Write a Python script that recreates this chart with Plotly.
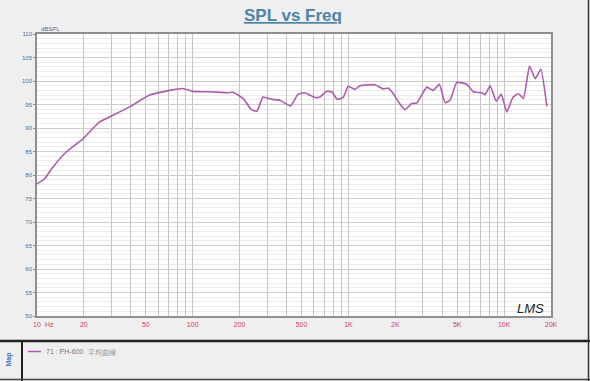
import plotly.graph_objects as go
import numpy as np

# ---- data ----
freq_hz = [10, 11.2, 12.6, 15.4, 19.7, 25.2, 30.7, 39.3, 52.9, 71.1, 86.2, 100, 128.6, 168,
           181.6, 210.6, 238.5, 259, 283, 320.7, 362.6, 424.6, 475.3, 525, 609, 656, 724, 780,
           847, 926, 997, 1101, 1186, 1480, 1674, 1803, 1941, 2143, 2308, 2548, 2746, 3184,
           3509, 3836, 4176, 4497, 4966, 5757, 6350, 7192, 7551, 8131, 8888, 9575, 10410,
           11370, 12360, 13310, 14550, 15830, 17210, 18820]
spl_db = [78.1, 79.2, 81.6, 84.9, 87.7, 91.3, 92.7, 94.5, 97.0, 98.0, 98.4, 97.8, 97.7, 97.5,
          97.6, 96.3, 93.9, 93.6, 96.6, 96.1, 95.9, 94.7, 97.2, 97.5, 96.5, 96.6, 97.8, 97.7,
          96.1, 96.5, 98.9, 98.2, 99.0, 99.2, 98.3, 98.5, 97.3, 95.1, 93.9, 95.2, 95.3, 98.7,
          98.0, 99.3, 95.4, 95.9, 99.7, 99.3, 97.7, 97.5, 97.1, 99.0, 95.7, 97.2, 93.4,
          96.5, 97.3, 96.3, 103.2, 100.5, 102.5, 94.6]

x_tick_vals = [10, 20, 50, 100, 200, 500, 1000, 2000, 5000, 10000, 20000]
x_tick_text = ["10", "20", "50", "100", "200", "500", "1K", "2K", "5K", "10K", "20K"]
y_range = [50, 110]
series_name = "71 : PH-600"
series_note = "平均曲線"

# gridline positions (1..9 per decade)
grid_vals = []
for dec in [10, 100, 1000, 10000]:
    for m in range(1, 10):
        v = dec * m
        if v <= 20000:
            grid_vals.append(v)
grid_vals.append(20000)
grid_vals = sorted(set(grid_vals))
grid_text = [x_tick_text[x_tick_vals.index(v)] if v in x_tick_vals else "" for v in grid_vals]

W, H = 590, 381
L, R, T, B = 37, 39, 34, 65
PW, PH = W - L - R, H - T - B

def px(x):
    return (x - L) / PW

def py(y):
    return (H - B - y) / PH

CURVE = "#ad5bad"
YBLUE = "#3f6fa6"
XRED = "#cf3a6c"

fig = go.Figure()
fig.add_trace(go.Scatter(x=freq_hz, y=spl_db, mode="lines",
                         line=dict(color=CURVE, width=1.6, shape="spline", smoothing=0.4),
                         showlegend=False, hoverinfo="skip"))

fig.update_layout(
    width=W, height=H,
    margin=dict(l=L, r=R, t=T, b=B),
    paper_bgcolor="#efefef", plot_bgcolor="#ffffff",
    font=dict(family="Liberation Sans, Arial", size=7),
    xaxis=dict(type="log", range=[1, np.log10(20000)], tickmode="array",
               tickvals=grid_vals, ticktext=grid_text, showgrid=True,
               gridcolor="#c4c4c4", gridwidth=1, showline=True, mirror=True,
               linecolor="#8f8f8f", linewidth=1.5, ticks="", zeroline=False,
               tickfont=dict(color=XRED, size=7), ticklabelstandoff=1),
    yaxis=dict(range=y_range, dtick=5, tick0=50, showgrid=True, gridcolor="#cdcdcd",
               gridwidth=1, showline=True, mirror=True, linecolor="#8f8f8f",
               linewidth=1.5, ticks="outside", ticklen=2, tickcolor="#8f8f8f",
               zeroline=False, tickfont=dict(color=YBLUE, size=6),
               minor=dict(dtick=1, showgrid=True, gridcolor="#ececec", gridwidth=1)),
)

def ann(text, x, y, xanchor="center", size=7, color="#777777", family=None, **kw):
    f = dict(size=size, color=color)
    if family:
        f["family"] = family
    d = dict(text=text, x=x, y=y, xref=kw.pop("xref", "paper"), yref="paper",
             xanchor=xanchor, yanchor="middle", showarrow=False, font=f)
    d.update(kw)
    return d

annotations = [
    ann("<b><u>SPL vs Freq</u></b>", px(293), py(15), size=17, color="#4d84a8",
        family="Liberation Sans, Arial"),
    ann("dBSPL", px(39), py(29), xanchor="left", size=6, color=YBLUE),
    ann("Hz", 1, py(324), xanchor="left", size=7, color=XRED, xref="x", xshift=6),
    ann("<i>LMS</i>", px(546), py(308), xanchor="right", size=13, color="#222222",
        family="Liberation Sans, Arial"),
    ann(series_name, px(44), py(351.5), xanchor="left", size=7, color="#777777"),
    ann(series_note, px(86), py(351.5), xanchor="left", size=7, color="#999999",
        family="Noto Sans CJK TC"),
    ann("<b>Map</b>", px(8.5), py(360), size=7, color="#3d78c0", textangle=-90),
]
fig.update_layout(annotations=annotations)

shapes = [
    dict(type="line", xref="paper", yref="paper", x0=px(0), x1=px(590), y0=py(341), y1=py(341),
         line=dict(color="#222222", width=2.5)),
    dict(type="line", xref="paper", yref="paper", x0=px(22), x1=px(22), y0=py(341), y1=py(381),
         line=dict(color="#222222", width=2)),
    dict(type="line", xref="paper", yref="paper", x0=px(0), x1=px(590), y0=py(379.5), y1=py(379.5),
         line=dict(color="#444444", width=1.5)),
    dict(type="line", xref="paper", yref="paper", x0=px(588.5), x1=px(588.5), y0=py(0), y1=py(381),
         line=dict(color="#333333", width=1.5)),
    dict(type="line", xref="paper", yref="paper", x0=px(28), x1=px(41), y0=py(351.5), y1=py(351.5),
         line=dict(color=CURVE, width=1.5)),
]
fig.update_layout(shapes=shapes)

fig.write_html("out.html", config={"displayModeBar": False},
               post_script="document.body.style.margin='0';document.body.style.padding='0';")
